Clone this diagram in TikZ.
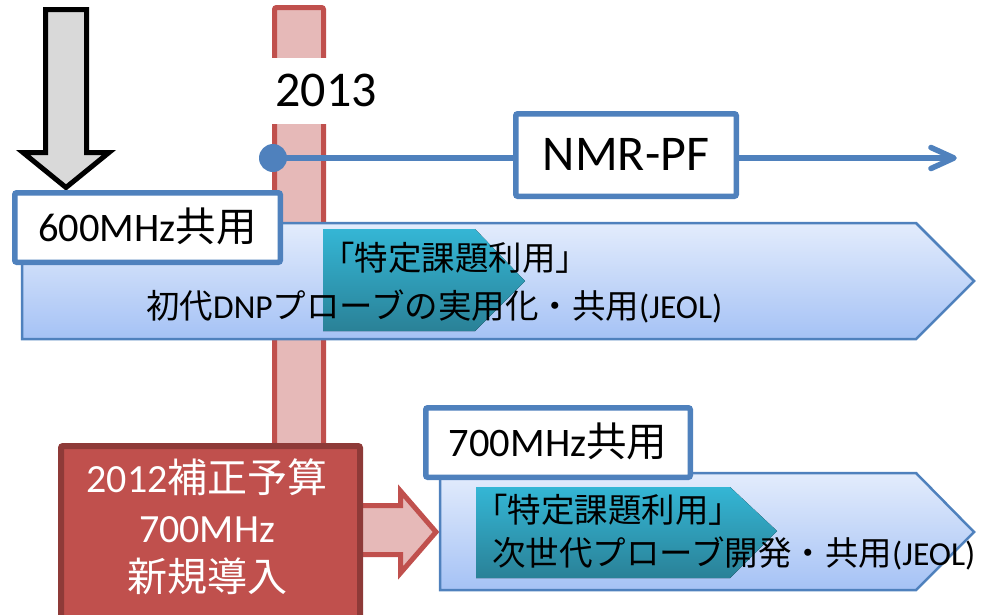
\documentclass[tikz,border=0pt]{standalone}
\usepackage{fontspec}
\setmainfont{Carlito}
\newfontfamily\jpf{Noto Sans CJK JP}
\newcommand{\jp}[1]{{\jpf #1}}
\definecolor{pfblue}{HTML}{4F81BD}
\definecolor{barfill}{HTML}{E6B9B8}
\definecolor{barline}{HTML}{C0504D}
\definecolor{boxred}{HTML}{C0504D}
\definecolor{boxredline}{HTML}{8E3A38}
\definecolor{grayfill}{HTML}{D9D9D9}
\definecolor{pentop}{HTML}{E3ECFC}
\definecolor{penbot}{HTML}{A5C2F5}
\definecolor{tealtop}{HTML}{34B6D5}
\definecolor{tealbot}{HTML}{2A8197}
\tikzset{
  wbox/.style={draw=pfblue, fill=white, line width=5.5, rounded corners=2, inner sep=0, text depth=0pt},
  ptext/.style={inner sep=0, anchor=base west, font=\fontsize{33.5}{40}\selectfont},
  rtext/.style={inner sep=0, anchor=base, text=white, font=\fontsize{40}{48}\selectfont},
  pent/.style={draw=pfblue, line width=2.5, top color=pentop, bottom color=penbot, line join=miter},
  tealshape/.style={top color=tealtop, bottom color=tealbot},
}
\begin{document}
\begin{tikzpicture}[x=1pt,y=-1pt]
\useasboundingbox (0,0) rectangle (985,614);

% red year bar
\draw[barline, line width=5, fill=barfill, rounded corners=2] (274.5,7.5) rectangle (323.5,450);
\node[fill=white, minimum width=120, minimum height=66, inner sep=0,
      font=\fontsize{50}{60}\selectfont, text height=31.6pt, text depth=0pt] (yr) at (326,91) {2013};

% gray down arrow
\draw[line width=5, fill=grayfill, line join=miter]
  (45.5,9.5) -- (86.5,9.5) -- (86.5,152.5) -- (109,152.5) -- (66,187.5) -- (23,152.5) -- (45.5,152.5) -- cycle;

% NMR-PF timeline
\node[circle, fill=pfblue, minimum size=28, inner sep=0] (dot) at (273,158) {};
\coordinate (lineend) at (954,158);
\draw[pfblue, line width=5.5] (dot.center) -- (lineend);
\draw[pfblue, line width=5.5, line cap=round, line join=round] (lineend) ++(-23,-10.5) -- (lineend) -- ++(-23,10.5);
\node[wbox, minimum width=220.5, minimum height=82.5, font=\fontsize{50}{58}\selectfont, text height=30pt] (nmr) at (626,155) {NMR-PF};

% upper pentagon
\draw[pent] (22,223) -- (916,223) -- (974,281) -- (916,339) -- (22,339) -- cycle;
\fill[tealshape] (323,229) -- (475,229) -- (525,281) -- (475,331) -- (323,331) -- cycle;
\node[wbox, minimum width=265.5, minimum height=69.5, font=\fontsize{40.5}{48}\selectfont, text height=27pt] (b600) at (147.5,227.5) {600MHz\jp{共用}};
\node[ptext] (u1) at (321,270) {\jp{「特定課題利用」}};
\node[ptext] (u2) at (146,318) {\jp{初代}DNP\jp{プローブの実用化・共用}(JEOL)};

% red budget box and arrow
\draw[barline, line width=5, fill=barfill, line join=miter]
  (340,505.5) -- (400.5,505.5) -- (400.5,491) -- (436,532) -- (400.5,573) -- (400.5,554.5) -- (340,554.5) -- cycle;
\node[draw=boxredline, fill=boxred, line width=6, rounded corners=2, minimum width=299, minimum height=220,
      anchor=north west, inner sep=0] (budget) at (58,443) {};
\node[rtext] (r1) at (207,492) {2012\jp{補正予算}};
\node[rtext] (r2) at (207,542) {700MHz};
\node[rtext] (r3) at (207,591) {\jp{新規導入}};

% lower pentagon
\draw[pent] (440,473) -- (916,473) -- (974,532) -- (916,590) -- (440,590) -- cycle;
\fill[tealshape] (476,487) -- (730,487) -- (777,531) -- (730,578) -- (476,578) -- cycle;
\node[wbox, minimum width=264.5, minimum height=69.5, font=\fontsize{40.5}{48}\selectfont, text height=27pt] (b700) at (558,442.5) {700MHz\jp{共用}};
\node[ptext] (l1) at (474,522) {\jp{「特定課題利用」}};
\node[ptext] (l2) at (492,565) {\jp{次世代プローブ開発・共用}(JEOL)};
\end{tikzpicture}
\end{document}
